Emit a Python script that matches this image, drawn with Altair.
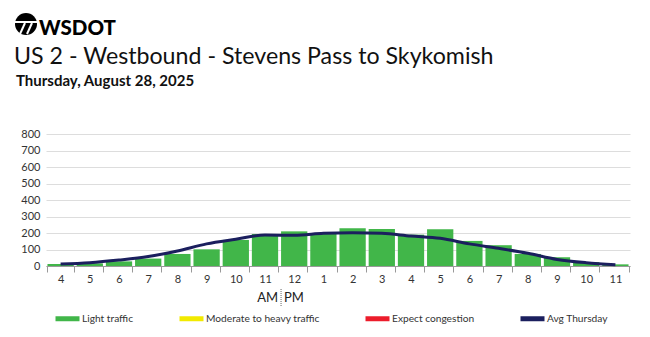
import altair as alt
import pandas as pd

# ---- data ----
hours = ["4", "5", "6", "7", "8", "9", "10", "11", "12", "1",
         "2", "3", "4", "5", "6", "7", "8", "9", "10", "11"]
ampm = ["AM"] * 8 + ["PM"] * 12
volume = [12, 16, 28, 45, 73, 101, 158, 194, 210, 198,
          229, 225, 190, 223, 152, 126, 73, 53, 24, 10]
avg_thursday = [12, 20, 36, 57, 91, 134, 162, 188, 186, 198,
                202, 198, 182, 168, 134, 107, 77, 40, 20, 8]
y_ticks = [0, 100, 200, 300, 400, 500, 600, 700, 800]
legend_labels = ["Light traffic", "Moderate to heavy traffic", "Expect congestion", "Avg Thursday"]
legend_colors = ["#41b649", "#f2ea00", "#ec1c2b", "#1b1f5e"]

title_text = "US 2 - Westbound - Stevens Pass to Skykomish"
subtitle_text = "Thursday, August 28, 2025"

slots = [f"{h} {p}" for h, p in zip(hours, ampm)]
df = pd.DataFrame({"slot": slots, "volume": volume, "avg": avg_thursday,
                   "series": ["Avg Thursday"] * len(slots)})

FONT = "Lato"
W, H = 584, 132
PAD = {"left": 46, "top": 134, "right": 20, "bottom": 71}

x_scale = alt.Scale(domain=slots, paddingInner=0.1, paddingOuter=0.05)
y_scale = alt.Scale(domain=[0, 800])

x_axis = alt.Axis(title=None, labelExpr="split(datum.label, ' ')[0]", labelAngle=0,
                  tickBand="extent", tickSize=6, tickColor="#999999", domainColor="#999999",
                  labelFontSize=11, labelColor="#333333", labelFont=FONT, labelPadding=1,
                  grid=False)
y_axis = alt.Axis(title=None, values=y_ticks, grid=True, gridColor="#dddddd", domain=False,
                  ticks=False, labelFontSize=11, labelColor="#333333", labelFont=FONT,
                  labelPadding=6)

base = alt.Chart(df)

bars = base.mark_bar(color=legend_colors[0]).encode(
    x=alt.X("slot:N", scale=x_scale, axis=x_axis),
    y=alt.Y("volume:Q", scale=y_scale, axis=y_axis),
)

line = base.mark_line(interpolate="monotone", strokeWidth=3).encode(
    x=alt.X("slot:N", scale=x_scale, axis=x_axis),
    y=alt.Y("avg:Q", scale=y_scale, axis=y_axis),
    stroke=alt.Stroke(
        "series:N",
        scale=alt.Scale(domain=legend_labels, range=legend_colors),
        legend=alt.Legend(
            title=None, orient="none", legendX=7, legendY=170, direction="horizontal",
            symbolType="stroke", symbolSize=576, symbolStrokeWidth=5,
            labelFontSize=10.2, labelFont=FONT, labelColor="#333333", labelOffset=0,
            columnPadding=35,
        ),
    ),
)

one = alt.Data(values=[{"slot": "12 PM"}])

am = alt.Chart(one).mark_text(text="AM", align="right", baseline="middle", dx=-3,
                              fontSize=13, font=FONT, color="#222222").encode(
    x=alt.X("slot:N", scale=x_scale, bandPosition=0, axis=x_axis), y=alt.value(164))
pm = alt.Chart(one).mark_text(text="PM", align="left", baseline="middle", dx=3,
                              fontSize=13, font=FONT, color="#222222").encode(
    x=alt.X("slot:N", scale=x_scale, bandPosition=0, axis=x_axis), y=alt.value(164))
divider = alt.Chart(one).mark_rule(strokeDash=[1, 1], color="#666666", strokeWidth=1).encode(
    x=alt.X("slot:N", scale=x_scale, bandPosition=0, axis=x_axis),
    y=alt.value(155), y2=alt.value(172))

blank = alt.Data(values=[{"k": 1}])

title = alt.Chart(blank).mark_text(text=title_text, align="left", baseline="alphabetic",
                                   fontSize=23.2, font=FONT, color="#111111").encode(
    x=alt.value(-32), y=alt.value(-70))
subtitle = alt.Chart(blank).mark_text(text=subtitle_text, align="left", baseline="alphabetic",
                                      fontSize=15, font=FONT, fontWeight="bold",
                                      color="#111111").encode(
    x=alt.value(-30), y=alt.value(-48))
logo_word = alt.Chart(blank).mark_text(text="WSDOT", align="left", baseline="alphabetic",
                                       fontSize=20.5, font=FONT, fontWeight=900,
                                       color="#000000").encode(
    x=alt.value(-7), y=alt.value(-99))
logo_circle = alt.Chart(blank).mark_point(shape="circle", filled=True, size=484,
                                          color="#000000", opacity=1).encode(
    x=alt.value(-20), y=alt.value(-110))
logo_band = alt.Chart(blank).mark_rule(color="white", strokeWidth=2).encode(
    x=alt.value(-32), x2=alt.value(-8), y=alt.value(-112))
logo_slash1 = alt.Chart(blank).mark_rule(color="white", strokeWidth=2).encode(
    x=alt.value(-21), x2=alt.value(-26), y=alt.value(-111), y2=alt.value(-100))
logo_slash2 = alt.Chart(blank).mark_rule(color="white", strokeWidth=2).encode(
    x=alt.value(-14), x2=alt.value(-19), y=alt.value(-111), y2=alt.value(-100))

chart = alt.layer(
    bars, line, am, pm, divider, title, subtitle, logo_circle, logo_band,
    logo_slash1, logo_slash2, logo_word
).properties(
    width=W, height=H,
    autosize=alt.AutoSizeParams(type="none"),
    padding=PAD,
    background="white",
).configure_view(stroke=None)

chart.save("out.html", embed_options={"renderer": "svg", "actions": False})
